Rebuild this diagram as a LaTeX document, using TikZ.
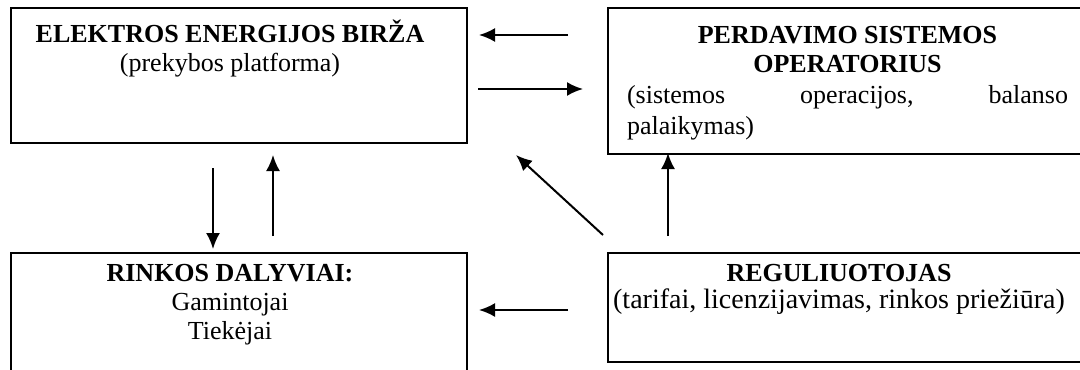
\documentclass[tikz,border=0pt]{standalone}
\usepackage{fontspec}
\setmainfont{Liberation Serif}
\usetikzlibrary{arrows.meta,positioning}

\tikzset{
  box/.style={draw, rectangle, line width=1pt, inner sep=0pt},
  txt/.style={align=center, inner sep=0pt, anchor=base, font=\fontsize{13}{14.5}\selectfont}
}

\begin{document}
\begin{tikzpicture}[x=0.5pt, y=-0.5pt, line width=1pt, >={Latex[length=8pt,width=7pt]}]
\useasboundingbox (0,0) rectangle (1080,369);
\node[box, minimum width=228pt, minimum height=67.5pt, anchor=north west] (birza) at (10,7) {};
\node[box, minimum width=240pt, minimum height=73pt, right=69.5pt of birza.north east, anchor=north west] (pso) {};
\node[box, minimum width=228pt, minimum height=65pt, below=54pt of birza.south west, anchor=north west] (dalyviai) {};
\node[box, minimum width=240pt, minimum height=54.5pt, anchor=north west] (reg) at (pso.west |- dalyviai.north) {};

% text: node base = baseline of the last line
\node[txt] (birzatxt) at (230,72) {\textbf{ELEKTROS ENERGIJOS BIRŽA}\\(prekybos platforma)};
\node[txt, align=left, anchor=base west] (psotxt) at (626,134) {\makebox[220.5pt][c]{\textbf{PERDAVIMO SISTEMOS}}\\\makebox[220.5pt][c]{\textbf{OPERATORIUS}}\\[1pt]\makebox[220.5pt]{(sistemos\hfill operacijos,\hfill balanso}\\[1pt]palaikymas)};
\node[txt] (dalyviaitxt) at (230,339) {\textbf{RINKOS DALYVIAI:}\\Gamintojai\\Tiekėjai};
\node[txt] (regtxt) at (839,308) {\textbf{REGULIUOTOJAS}\\[-1pt]{\fontsize{14}{14.5}\selectfont(tarifai, licenzijavimas, rinkos priežiūra)}};

% arrow ends
\coordinate (a1) at (568,35);  \coordinate (b1) at (479,35);
\coordinate (a2) at (478,89);  \coordinate (b2) at (583,89);
\coordinate (a3) at (213,168); \coordinate (b3) at (213,249);
\coordinate (a4) at (273,236); \coordinate (b4) at (273,155);
\coordinate (a5) at (668,236); \coordinate (b5) at (668,153);
\coordinate (a6) at (603,235); \coordinate (b6) at (516,155);
\coordinate (a7) at (568,310); \coordinate (b7) at (479,310);

\draw[->] (a1) -- (b1);
\draw[->] (a2) -- (b2);
\draw[->] (a3) -- (b3);
\draw[->] (a4) -- (b4);
\draw[->] (a5) -- (b5);
\draw[->] (a6) -- (b6);
\draw[->] (a7) -- (b7);
\end{tikzpicture}
\end{document}
